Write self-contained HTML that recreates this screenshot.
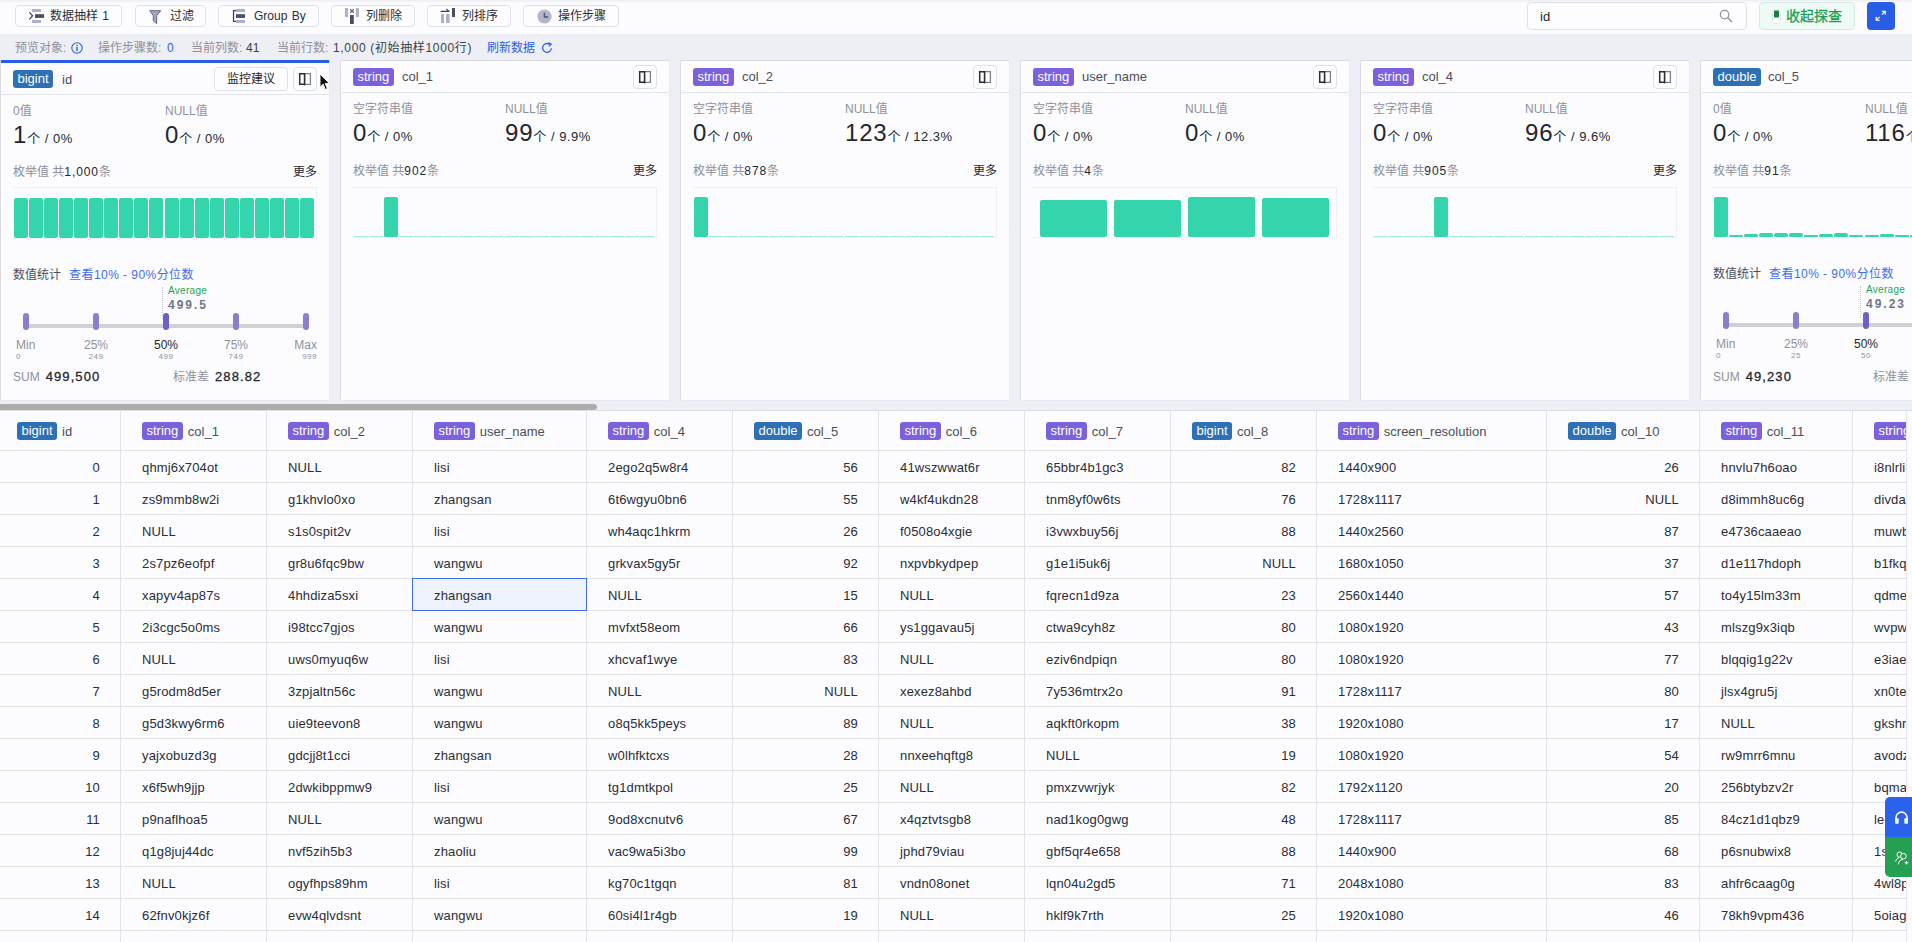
<!DOCTYPE html><html lang="zh"><head><meta charset="utf-8"><title>数据探查</title><style>*{box-sizing:border-box;margin:0;padding:0}
html,body{width:1912px;height:942px;overflow:hidden}
body{position:relative;background:#eeeff4;font-family:"Liberation Sans","Noto Sans CJK SC",sans-serif;font-size:13px;color:#23262e;-webkit-font-smoothing:antialiased}
.abs{position:absolute}
/* top toolbar */
.tb{position:absolute;left:0;top:0;width:1912px;height:34px;background:linear-gradient(#eeeff4 0,#eeeff4 1.5px,#f7f7fb 1.5px,#f7f7fb 3.5px,#fcfcfe 3.5px)}
.btn{position:absolute;top:5px;height:22px;border:1px solid #dfe1ea;border-radius:4px;background:#fdfdff;font-size:12px;line-height:20px;color:#2a2d36;white-space:nowrap}
.btn svg{position:absolute;top:3px}
.btn span{position:absolute;top:0;word-spacing:1px}
.search{position:absolute;left:1527px;top:2px;width:220px;height:28px;border:1px solid #dfe1e8;border-radius:4px;background:#fdfdff}
.search span{position:absolute;left:12px;top:0;line-height:27px;font-size:13px;color:#23262e}
.collapse{position:absolute;left:1759px;top:2px;width:96px;height:28px;border:1px solid #d4ebe4;border-radius:4px;background:#eefaf6;color:#1a9f53;font-size:14px;line-height:26px}
.expand{position:absolute;left:1867px;top:2px;width:28px;height:28px;border-radius:4px;background:#2a5de6}
/* info bar */
.info{position:absolute;left:0;top:33px;width:1912px;height:27px;font-size:12px;line-height:31px;color:#8d919c;white-space:nowrap}
.info span{position:absolute;top:0}
.info .v{color:#2a5de6}
.info .d{color:#3b3f4a}
/* cards */
.card{position:absolute;background:#fcfcfe;border:1px solid #e7e8f0;border-top-color:#dcdde3;border-left-color:#dcdde3;border-radius:2px}
.card.first{border-top:3px solid #2a5de6}
.card .hd{position:absolute;left:0;right:0;top:0;height:33px;border-bottom:1px solid #e3e5ec}
.card.first .hd{height:32px}
.bdg{display:inline-block;height:18px;line-height:18px;padding:0 4.5px;border-radius:3px;color:#fff;font-size:13px;vertical-align:middle}
.bn{background:#2d70b6}
.bs{background:#7b61dc}
.card .hd .bdg{position:absolute;left:12px;top:7px}
.nm{line-height:18px;font-size:13px;color:#4a4e59;white-space:nowrap}
.ib{position:absolute;top:4px;width:24px;height:24px;border:1px solid #dfe1e8;border-radius:4px;background:#fdfdff}
.mon{position:absolute;left:214px;top:5px;width:74px;height:24px;border:1px solid #dfe1e8;border-radius:4px;background:#fdfdff;font-size:12px;line-height:22px;text-align:center;color:#23262e}
.lab{position:absolute;font-size:12px;line-height:14px;color:#8d919c;white-space:nowrap}
.big{position:absolute;white-space:nowrap;line-height:28px;font-size:13px;color:#23262e;letter-spacing:.5px}
.big b{font-weight:400;font-size:24px;letter-spacing:.8px}
.enum{position:absolute;font-size:12px;line-height:14px;color:#8d919c;white-space:nowrap}
.enum i{font-style:normal;color:#23262e;letter-spacing:.9px}
.more{position:absolute;font-size:12px;line-height:14px;color:#23262e}
.chart{position:absolute;left:12px;width:304px;height:52px;border-top:1px dotted #e2e4ee;border-right:1px dotted #e2e4ee;border-bottom:1px dotted #e6e8f0}
.chart i{position:absolute;bottom:0;background:#34d4ad;border-radius:2px}
.chart .base{position:absolute;left:1px;right:2px;bottom:0;height:1px;background:repeating-linear-gradient(90deg,#a6e8d7 0,#a6e8d7 14px,transparent 14px,transparent 15.05px)}
.st{position:absolute;font-size:12px;line-height:14px;white-space:nowrap}
.trk{position:absolute;height:4px;background:#cfd0d8;border-radius:2px}
.mk{position:absolute;width:6px;height:17px;border-radius:3px;background:#8577c9}
.pl{position:absolute;font-size:12px;line-height:14px;color:#8d919c;text-align:center;width:40px;white-space:nowrap}
.ps{position:absolute;font-size:8px;line-height:10px;color:#8d919c;text-align:center;width:40px;letter-spacing:.5px}
.sum{position:absolute;font-size:12px;line-height:16px;color:#8d919c;white-space:nowrap}
.sum b{color:#23262e;font-weight:400;font-size:13px;-webkit-text-stroke:.3px #23262e;letter-spacing:1.1px;margin-left:6px}
/* scrollbar */
.hs{position:absolute;left:0;top:404px;width:597px;height:6px;background:#acacab;border-radius:0 3px 3px 0}
/* table */
.tbl{position:absolute;left:0;top:411px;width:1906px;height:531px;background:#fcfcfe;overflow:hidden}
.th{position:absolute;top:0;height:39px;line-height:41px;white-space:nowrap;color:#4a4e59;font-size:13px}
.th .bdg{margin-top:-3px}
.th .cn{margin-left:5px}
.td{position:absolute;height:31px;line-height:33px;white-space:nowrap;font-size:13px;color:#2a2d36;letter-spacing:.15px;z-index:2}
.td.r{text-align:right}
.sel{position:absolute;border:1.5px solid #3d6cf0;background:#eef3fe;z-index:1}
.vl{position:absolute;top:0;width:1px;height:531px;background:#e1e3ea}
.hl{position:absolute;left:0;width:1906px;height:1px;background:#e1e3ea}
.vs{position:absolute;left:1906px;top:411px;width:6px;height:531px;background:#fcfcfe;border-left:1px solid #e6e8ee;z-index:4}
.fl{position:absolute;left:1885px;width:27px;z-index:5}
.tt{position:absolute;left:0;top:410px;width:1912px;height:1px;background:#dcdde2}
</style></head><body>
<div class="tb">
  <div class="btn" style="left:15px;width:107px">
    <svg style="left:12px" width="18" height="16" viewBox="0 0 18 16"><path d="M1.3 3.3 L4.6 6.8 L1.3 10.3" fill="none" stroke="#3a3e55" stroke-width="1.2"/><rect x="4" y="0" width="9" height="3" fill="#adb0cc"/><rect x="7" y="5.2" width="9" height="3.7" fill="#4a4d5e"/><rect x="4" y="11" width="9" height="3" fill="#adb0cc"/></svg>
    <span style="left:34px">数据抽样 1</span>
  </div>
  <div class="btn" style="left:135px;width:71px">
    <svg style="left:13px;top:4px" width="13" height="15" viewBox="0 0 13 15"><path d="M0.7 0.7 H11.7 L7.7 5.6 V13.6 L4.3 10.8 V5.6 Z" fill="#a3a7c4" stroke="#555a78" stroke-width=".9" stroke-linejoin="round"/></svg>
    <span style="left:34px">过滤</span>
  </div>
  <div class="btn" style="left:218px;width:101px">
    <svg style="left:13px" width="15" height="16" viewBox="0 0 15 16"><path d="M4 1.6 H1.5 V12.4 H4" fill="none" stroke="#3a3e55" stroke-width="1.2"/><rect x="4" y="0" width="9" height="3" fill="#adb0cc"/><rect x="4" y="5.2" width="9" height="3.7" fill="#4a4d5e"/><rect x="4" y="11" width="9" height="3" fill="#adb0cc"/></svg>
    <span style="left:35px">Group By</span>
  </div>
  <div class="btn" style="left:331px;width:84px">
    <svg style="left:13px;top:2px" width="15" height="17" viewBox="0 0 15 17"><rect x="0" y="0" width="3" height="9" fill="#adb0cc"/><rect x="11" y="0" width="3" height="9" fill="#adb0cc"/><rect x="5" y="7" width="3.8" height="9" fill="#4a4d5e"/><path d="M5.2 1.2 L8.8 4.8 M8.8 1.2 L5.2 4.8" stroke="#4a4d5e" stroke-width="1.1"/></svg>
    <span style="left:34px">列删除</span>
  </div>
  <div class="btn" style="left:427px;width:84px">
    <svg style="left:12px;top:2px" width="17" height="17" viewBox="0 0 17 17"><rect x="1" y="6" width="3" height="9" fill="#adb0cc"/><rect x="6" y="6" width="3.6" height="9" fill="#adb0cc"/><rect x="12" y="0" width="3" height="9" fill="#4a4d5e"/><path d="M0.6 3.4 H9.4 M6.4 1.2 L9.4 3.4" fill="none" stroke="#3a3e55" stroke-width="1.1"/></svg>
    <span style="left:34px">列排序</span>
  </div>
  <div class="btn" style="left:523px;width:96px">
    <svg style="left:12.5px;top:2.5px" width="15" height="15" viewBox="0 0 15 15"><circle cx="7.5" cy="7.5" r="7.1" fill="#b3b5c9"/><path d="M7.4 3.8 V8 H11.2" fill="none" stroke="#46557f" stroke-width="1.4"/></svg>
    <span style="left:34px">操作步骤</span>
  </div>
  <div class="search"><span>id</span>
    <svg style="position:absolute;left:190.5px;top:6px" width="14" height="14" viewBox="0 0 15 15"><circle cx="6" cy="6" r="4.6" fill="none" stroke="#8d919c" stroke-width="1.3"/><path d="M9.4 9.4 L13.6 13.6" stroke="#8d919c" stroke-width="1.5" stroke-linecap="round"/></svg>
  </div>
  <div class="collapse">
    <svg style="position:absolute;left:12px;top:5.5px" width="9" height="15" viewBox="0 0 9 15"><rect x="0.5" y="0.5" width="8" height="14" rx="3.2" fill="#fdfdff" stroke="#d9daf2" stroke-width=".8"/><rect x="2" y="1.5" width="5" height="7" rx=".7" fill="#18803f"/></svg>
    <span style="position:absolute;left:26px;top:0;-webkit-text-stroke:.3px #1a9f53">收起探查</span>
  </div>
  <div class="expand">
    <svg style="position:absolute;left:8px;top:8px" width="11.5" height="11.5" viewBox="0 0 14 14"><path d="M8.2 1.5 H12.5 V5.8 M12.5 1.5 L8.4 5.6 M5.8 12.5 H1.5 V8.2 M1.5 12.5 L5.6 8.4" fill="none" stroke="#fff" stroke-width="1.4"/></svg>
  </div>
</div>
<div class="info">
  <span style="left:15px">预览对象:</span>
  <svg style="position:absolute;left:71px;top:9px" width="12" height="12" viewBox="0 0 12 12"><circle cx="6" cy="6" r="5.2" fill="none" stroke="#2a5de6" stroke-width="1.1"/><rect x="5.3" y="5" width="1.4" height="4" fill="#2a5de6"/><rect x="5.3" y="2.8" width="1.4" height="1.4" fill="#2a5de6"/></svg>
  <span style="left:98px">操作步骤数:</span><span class="v" style="left:167px">0</span>
  <span style="left:191px">当前列数:</span><span class="d" style="left:246px">41</span>
  <span style="left:277px">当前行数:</span><span class="d" style="left:333px;letter-spacing:.65px">1,000 (初始抽样1000行)</span>
  <span class="v" style="left:487px">刷新数据</span>
  <svg style="position:absolute;left:541px;top:9px" width="12" height="12" viewBox="0 0 12 12"><path d="M10.4 6.2 A4.4 4.4 0 1 1 8.6 2.4" fill="none" stroke="#2a5de6" stroke-width="1.2"/><path d="M7.2 0.6 L10.2 2.2 L7.8 4.4" fill="none" stroke="#2a5de6" stroke-width="1.2"/></svg>
</div>

<div class="card first" style="left:0px;top:60px;width:330px;height:341px"></div>
<div class="abs" style="left:2px;top:94px;width:327px;height:1px;background:#e3e5ec"></div>
<span class="bdg bn abs" style="left:13px;top:70px">bigint</span>
<span class="abs nm" style="left:62px;top:71px">id</span>
<div class="mon" style="left:214px;top:67px">监控建议</div>
<div class="ib" style="left:293px;top:67px"><svg width="14" height="15" viewBox="0 0 14 15" style="position:absolute;left:4px;top:4px"><path d="M6.2 1.7 H1.7 V12.3 H6.2" fill="none" stroke="#2a2d36" stroke-width="1.5"/><path d="M6.2 1.7 H12.4 V12.3 H6.2" fill="none" stroke="#7d808c" stroke-width="1.3"/><path d="M6.6 1 V13.4" stroke="#2a2d36" stroke-width="1.6"/></svg></div>
<div class="lab" style="left:13px;top:104px">0值</div>
<div class="lab" style="left:165px;top:104px">NULL值</div>
<div class="big" style="left:13px;top:121px"><b>1</b>个 / 0%</div>
<div class="big" style="left:165px;top:121px"><b>0</b>个 / 0%</div>
<div class="enum" style="left:13px;top:165px">枚举值 共<i>1,000</i>条</div>
<div class="more" style="left:293px;top:165px">更多</div>
<div class="chart" style="left:13px;top:187px;height:52px">
<i style="left:1.0px;width:14px;height:40px"></i>
<i style="left:16.05px;width:14px;height:40px"></i>
<i style="left:31.1px;width:14px;height:40px"></i>
<i style="left:46.150000000000006px;width:14px;height:40px"></i>
<i style="left:61.2px;width:14px;height:40px"></i>
<i style="left:76.25px;width:14px;height:40px"></i>
<i style="left:91.30000000000001px;width:14px;height:40px"></i>
<i style="left:106.35000000000001px;width:14px;height:40px"></i>
<i style="left:121.4px;width:14px;height:40px"></i>
<i style="left:136.45000000000002px;width:14px;height:40px"></i>
<i style="left:151.5px;width:14px;height:40px"></i>
<i style="left:166.55px;width:14px;height:40px"></i>
<i style="left:181.60000000000002px;width:14px;height:40px"></i>
<i style="left:196.65px;width:14px;height:40px"></i>
<i style="left:211.70000000000002px;width:14px;height:40px"></i>
<i style="left:226.75px;width:14px;height:40px"></i>
<i style="left:241.8px;width:14px;height:40px"></i>
<i style="left:256.85px;width:14px;height:40px"></i>
<i style="left:271.90000000000003px;width:14px;height:40px"></i>
<i style="left:286.95px;width:14px;height:40px"></i>
</div>
<div class="st" style="left:13px;top:268px;color:#4a4e59">数值统计</div>
<div class="st" style="left:69px;top:268px;color:#3d6cf0;letter-spacing:.45px">查看10% - 90%分位数</div>
<div class="abs" style="left:162px;top:287px;width:0;height:32px;border-left:1px dotted #c4c6d2"></div>
<div class="abs" style="left:168px;top:285px;font-size:10px;line-height:12px;color:#1fa45a;letter-spacing:.3px">Average</div>
<div class="abs" style="left:168px;top:298px;font-size:12px;line-height:14px;font-weight:700;color:#6f7686;letter-spacing:2px">499.5</div>
<div class="trk" style="left:25px;top:324px;width:282px"></div>
<div class="mk" style="left:23px;top:313px;background:#8b7fcb"></div>
<div class="mk" style="left:93px;top:313px;background:#8b7fcb"></div>
<div class="mk" style="left:163px;top:313px;background:#6f5fc6"></div>
<div class="mk" style="left:233px;top:313px;background:#8b7fcb"></div>
<div class="mk" style="left:303px;top:313px;background:#8b7fcb"></div>
<div class="pl" style="left:16px;top:338px;text-align:left;">Min</div>
<div class="ps" style="left:16px;top:352px;text-align:left;">0</div>
<div class="pl" style="left:76px;top:338px;">25%</div>
<div class="ps" style="left:76px;top:352px;">249</div>
<div class="pl" style="left:146px;top:338px;color:#23262e;">50%</div>
<div class="ps" style="left:146px;top:352px;">499</div>
<div class="pl" style="left:216px;top:338px;">75%</div>
<div class="ps" style="left:216px;top:352px;">749</div>
<div class="pl" style="left:277px;top:338px;text-align:right;">Max</div>
<div class="ps" style="left:277px;top:352px;text-align:right;">999</div>
<div class="sum" style="left:13px;top:369px">SUM<b>499,500</b></div>
<div class="sum" style="left:173px;top:369px">标准差<b>288.82</b></div>
<div class="card" style="left:340px;top:60px;width:330px;height:341px"></div>
<div class="abs" style="left:342px;top:92px;width:327px;height:1px;background:#e3e5ec"></div>
<span class="bdg bs abs" style="left:353px;top:68px">string</span>
<span class="abs nm" style="left:402px;top:68px">col_1</span>
<div class="ib" style="left:633px;top:65px"><svg width="14" height="15" viewBox="0 0 14 15" style="position:absolute;left:4px;top:4px"><path d="M6.2 1.7 H1.7 V12.3 H6.2" fill="none" stroke="#2a2d36" stroke-width="1.5"/><path d="M6.2 1.7 H12.4 V12.3 H6.2" fill="none" stroke="#7d808c" stroke-width="1.3"/><path d="M6.6 1 V13.4" stroke="#2a2d36" stroke-width="1.6"/></svg></div>
<div class="lab" style="left:353px;top:102px">空字符串值</div>
<div class="lab" style="left:505px;top:102px">NULL值</div>
<div class="big" style="left:353px;top:119px"><b>0</b>个 / 0%</div>
<div class="big" style="left:505px;top:119px"><b>99</b>个 / 9.9%</div>
<div class="enum" style="left:353px;top:164px">枚举值 共<i>902</i>条</div>
<div class="more" style="left:633px;top:164px">更多</div>
<div class="chart" style="left:353px;top:187px;height:51px">
<div class="base"></div>
<i style="left:31px;width:14px;height:40px"></i>
</div>
<div class="card" style="left:680px;top:60px;width:330px;height:341px"></div>
<div class="abs" style="left:682px;top:92px;width:327px;height:1px;background:#e3e5ec"></div>
<span class="bdg bs abs" style="left:693px;top:68px">string</span>
<span class="abs nm" style="left:742px;top:68px">col_2</span>
<div class="ib" style="left:973px;top:65px"><svg width="14" height="15" viewBox="0 0 14 15" style="position:absolute;left:4px;top:4px"><path d="M6.2 1.7 H1.7 V12.3 H6.2" fill="none" stroke="#2a2d36" stroke-width="1.5"/><path d="M6.2 1.7 H12.4 V12.3 H6.2" fill="none" stroke="#7d808c" stroke-width="1.3"/><path d="M6.6 1 V13.4" stroke="#2a2d36" stroke-width="1.6"/></svg></div>
<div class="lab" style="left:693px;top:102px">空字符串值</div>
<div class="lab" style="left:845px;top:102px">NULL值</div>
<div class="big" style="left:693px;top:119px"><b>0</b>个 / 0%</div>
<div class="big" style="left:845px;top:119px"><b>123</b>个 / 12.3%</div>
<div class="enum" style="left:693px;top:164px">枚举值 共<i>878</i>条</div>
<div class="more" style="left:973px;top:164px">更多</div>
<div class="chart" style="left:693px;top:187px;height:51px">
<div class="base"></div>
<i style="left:1px;width:14px;height:40px"></i>
</div>
<div class="card" style="left:1020px;top:60px;width:330px;height:341px"></div>
<div class="abs" style="left:1022px;top:92px;width:327px;height:1px;background:#e3e5ec"></div>
<span class="bdg bs abs" style="left:1033px;top:68px">string</span>
<span class="abs nm" style="left:1082px;top:68px">user_name</span>
<div class="ib" style="left:1313px;top:65px"><svg width="14" height="15" viewBox="0 0 14 15" style="position:absolute;left:4px;top:4px"><path d="M6.2 1.7 H1.7 V12.3 H6.2" fill="none" stroke="#2a2d36" stroke-width="1.5"/><path d="M6.2 1.7 H12.4 V12.3 H6.2" fill="none" stroke="#7d808c" stroke-width="1.3"/><path d="M6.6 1 V13.4" stroke="#2a2d36" stroke-width="1.6"/></svg></div>
<div class="lab" style="left:1033px;top:102px">空字符串值</div>
<div class="lab" style="left:1185px;top:102px">NULL值</div>
<div class="big" style="left:1033px;top:119px"><b>0</b>个 / 0%</div>
<div class="big" style="left:1185px;top:119px"><b>0</b>个 / 0%</div>
<div class="enum" style="left:1033px;top:164px">枚举值 共<i>4</i>条</div>
<div class="chart" style="left:1033px;top:187px;height:51px">
<i style="left:7px;width:67px;height:37px"></i>
<i style="left:81px;width:67px;height:37px"></i>
<i style="left:155px;width:67px;height:40px"></i>
<i style="left:229px;width:67px;height:39px"></i>
</div>
<div class="card" style="left:1360px;top:60px;width:330px;height:341px"></div>
<div class="abs" style="left:1362px;top:92px;width:327px;height:1px;background:#e3e5ec"></div>
<span class="bdg bs abs" style="left:1373px;top:68px">string</span>
<span class="abs nm" style="left:1422px;top:68px">col_4</span>
<div class="ib" style="left:1653px;top:65px"><svg width="14" height="15" viewBox="0 0 14 15" style="position:absolute;left:4px;top:4px"><path d="M6.2 1.7 H1.7 V12.3 H6.2" fill="none" stroke="#2a2d36" stroke-width="1.5"/><path d="M6.2 1.7 H12.4 V12.3 H6.2" fill="none" stroke="#7d808c" stroke-width="1.3"/><path d="M6.6 1 V13.4" stroke="#2a2d36" stroke-width="1.6"/></svg></div>
<div class="lab" style="left:1373px;top:102px">空字符串值</div>
<div class="lab" style="left:1525px;top:102px">NULL值</div>
<div class="big" style="left:1373px;top:119px"><b>0</b>个 / 0%</div>
<div class="big" style="left:1525px;top:119px"><b>96</b>个 / 9.6%</div>
<div class="enum" style="left:1373px;top:164px">枚举值 共<i>905</i>条</div>
<div class="more" style="left:1653px;top:164px">更多</div>
<div class="chart" style="left:1373px;top:187px;height:51px">
<div class="base"></div>
<i style="left:61px;width:14px;height:40px"></i>
</div>
<div class="card" style="left:1700px;top:60px;width:330px;height:341px"></div>
<div class="abs" style="left:1702px;top:92px;width:327px;height:1px;background:#e3e5ec"></div>
<span class="bdg bn abs" style="left:1713px;top:68px">double</span>
<span class="abs nm" style="left:1768px;top:68px">col_5</span>
<div class="ib" style="left:1993px;top:65px"><svg width="14" height="15" viewBox="0 0 14 15" style="position:absolute;left:4px;top:4px"><path d="M6.2 1.7 H1.7 V12.3 H6.2" fill="none" stroke="#2a2d36" stroke-width="1.5"/><path d="M6.2 1.7 H12.4 V12.3 H6.2" fill="none" stroke="#7d808c" stroke-width="1.3"/><path d="M6.6 1 V13.4" stroke="#2a2d36" stroke-width="1.6"/></svg></div>
<div class="lab" style="left:1713px;top:102px">0值</div>
<div class="lab" style="left:1865px;top:102px">NULL值</div>
<div class="big" style="left:1713px;top:119px"><b>0</b>个 / 0%</div>
<div class="big" style="left:1865px;top:119px"><b>116</b>个 / 11.6%</div>
<div class="enum" style="left:1713px;top:164px">枚举值 共<i>91</i>条</div>
<div class="chart" style="left:1713px;top:187px;height:51px">
<div class="base"></div>
<i style="left:1px;width:14px;height:40px"></i>
<i style="left:16.05px;width:14px;height:2px"></i>
<i style="left:31.1px;width:14px;height:3px"></i>
<i style="left:46.150000000000006px;width:14px;height:4px"></i>
<i style="left:61.2px;width:14px;height:4px"></i>
<i style="left:76.25px;width:14px;height:4px"></i>
<i style="left:91.30000000000001px;width:14px;height:2px"></i>
<i style="left:106.35000000000001px;width:14px;height:3px"></i>
<i style="left:121.4px;width:14px;height:4px"></i>
<i style="left:136.45000000000002px;width:14px;height:2px"></i>
<i style="left:151.5px;width:14px;height:2px"></i>
<i style="left:166.55px;width:14px;height:3px"></i>
<i style="left:181.60000000000002px;width:14px;height:2px"></i>
<i style="left:196.65px;width:14px;height:2px"></i>
</div>
<div class="st" style="left:1713px;top:267px;color:#4a4e59">数值统计</div>
<div class="st" style="left:1769px;top:267px;color:#3d6cf0;letter-spacing:.45px">查看10% - 90%分位数</div>
<div class="abs" style="left:1860px;top:286px;width:0;height:32px;border-left:1px dotted #c4c6d2"></div>
<div class="abs" style="left:1866px;top:284px;font-size:10px;line-height:12px;color:#1fa45a;letter-spacing:.3px">Average</div>
<div class="abs" style="left:1866px;top:297px;font-size:12px;line-height:14px;font-weight:700;color:#6f7686;letter-spacing:2px">49.23</div>
<div class="trk" style="left:1725px;top:323px;width:282px"></div>
<div class="mk" style="left:1723px;top:312px;background:#8b7fcb"></div>
<div class="mk" style="left:1793px;top:312px;background:#8b7fcb"></div>
<div class="mk" style="left:1863px;top:312px;background:#6f5fc6"></div>
<div class="mk" style="left:1933px;top:312px;background:#8b7fcb"></div>
<div class="mk" style="left:2003px;top:312px;background:#8b7fcb"></div>
<div class="pl" style="left:1716px;top:337px;text-align:left;">Min</div>
<div class="ps" style="left:1716px;top:351px;text-align:left;">0</div>
<div class="pl" style="left:1776px;top:337px;">25%</div>
<div class="ps" style="left:1776px;top:351px;">25</div>
<div class="pl" style="left:1846px;top:337px;color:#23262e;">50%</div>
<div class="ps" style="left:1846px;top:351px;">50</div>
<div class="pl" style="left:1916px;top:337px;">75%</div>
<div class="ps" style="left:1916px;top:351px;">75</div>
<div class="pl" style="left:1977px;top:337px;text-align:right;">Max</div>
<div class="ps" style="left:1977px;top:351px;text-align:right;">99</div>
<div class="sum" style="left:1713px;top:369px">SUM<b>49,230</b></div>
<div class="sum" style="left:1873px;top:369px">标准差<b>28.9</b></div>
<div class="tt"></div><div class="hs"></div>

<div class="tbl">
<div class="th" style="left:17px"><span class="bdg bn">bigint</span><span class="cn">id</span></div>
<div class="th" style="left:142px"><span class="bdg bs">string</span><span class="cn">col_1</span></div>
<div class="th" style="left:288px"><span class="bdg bs">string</span><span class="cn">col_2</span></div>
<div class="th" style="left:434px"><span class="bdg bs">string</span><span class="cn">user_name</span></div>
<div class="th" style="left:608px"><span class="bdg bs">string</span><span class="cn">col_4</span></div>
<div class="th" style="left:754px"><span class="bdg bn">double</span><span class="cn">col_5</span></div>
<div class="th" style="left:900px"><span class="bdg bs">string</span><span class="cn">col_6</span></div>
<div class="th" style="left:1046px"><span class="bdg bs">string</span><span class="cn">col_7</span></div>
<div class="th" style="left:1192px"><span class="bdg bn">bigint</span><span class="cn">col_8</span></div>
<div class="th" style="left:1338px"><span class="bdg bs">string</span><span class="cn">screen_resolution</span></div>
<div class="th" style="left:1568px"><span class="bdg bn">double</span><span class="cn">col_10</span></div>
<div class="th" style="left:1721px"><span class="bdg bs">string</span><span class="cn">col_11</span></div>
<div class="th" style="left:1874px"><span class="bdg bs">string</span><span class="cn">col_12</span></div>
<div class="td r" style="left:1px;width:99px;top:40px">0</div>
<div class="td" style="left:142px;top:40px">qhmj6x704ot</div>
<div class="td" style="left:288px;top:40px">NULL</div>
<div class="td" style="left:434px;top:40px">lisi</div>
<div class="td" style="left:608px;top:40px">2ego2q5w8r4</div>
<div class="td r" style="left:733px;width:125px;top:40px">56</div>
<div class="td" style="left:900px;top:40px">41wszwwat6r</div>
<div class="td" style="left:1046px;top:40px">65bbr4b1gc3</div>
<div class="td r" style="left:1171px;width:125px;top:40px">82</div>
<div class="td" style="left:1338px;top:40px">1440x900</div>
<div class="td r" style="left:1547px;width:132px;top:40px">26</div>
<div class="td" style="left:1721px;top:40px">hnvlu7h6oao</div>
<div class="td" style="left:1874px;top:40px">i8nlrlic</div>
<div class="td r" style="left:1px;width:99px;top:72px">1</div>
<div class="td" style="left:142px;top:72px">zs9mmb8w2i</div>
<div class="td" style="left:288px;top:72px">g1khvlo0xo</div>
<div class="td" style="left:434px;top:72px">zhangsan</div>
<div class="td" style="left:608px;top:72px">6t6wgyu0bn6</div>
<div class="td r" style="left:733px;width:125px;top:72px">55</div>
<div class="td" style="left:900px;top:72px">w4kf4ukdn28</div>
<div class="td" style="left:1046px;top:72px">tnm8yf0w6ts</div>
<div class="td r" style="left:1171px;width:125px;top:72px">76</div>
<div class="td" style="left:1338px;top:72px">1728x1117</div>
<div class="td r" style="left:1547px;width:132px;top:72px">NULL</div>
<div class="td" style="left:1721px;top:72px">d8immh8uc6g</div>
<div class="td" style="left:1874px;top:72px">divdas</div>
<div class="td r" style="left:1px;width:99px;top:104px">2</div>
<div class="td" style="left:142px;top:104px">NULL</div>
<div class="td" style="left:288px;top:104px">s1s0spit2v</div>
<div class="td" style="left:434px;top:104px">lisi</div>
<div class="td" style="left:608px;top:104px">wh4aqc1hkrm</div>
<div class="td r" style="left:733px;width:125px;top:104px">26</div>
<div class="td" style="left:900px;top:104px">f0508o4xgie</div>
<div class="td" style="left:1046px;top:104px">i3vwxbuy56j</div>
<div class="td r" style="left:1171px;width:125px;top:104px">88</div>
<div class="td" style="left:1338px;top:104px">1440x2560</div>
<div class="td r" style="left:1547px;width:132px;top:104px">87</div>
<div class="td" style="left:1721px;top:104px">e4736caaeao</div>
<div class="td" style="left:1874px;top:104px">muwbx</div>
<div class="td r" style="left:1px;width:99px;top:136px">3</div>
<div class="td" style="left:142px;top:136px">2s7pz6eofpf</div>
<div class="td" style="left:288px;top:136px">gr8u6fqc9bw</div>
<div class="td" style="left:434px;top:136px">wangwu</div>
<div class="td" style="left:608px;top:136px">grkvax5gy5r</div>
<div class="td r" style="left:733px;width:125px;top:136px">92</div>
<div class="td" style="left:900px;top:136px">nxpvbkydpep</div>
<div class="td" style="left:1046px;top:136px">g1e1i5uk6j</div>
<div class="td r" style="left:1171px;width:125px;top:136px">NULL</div>
<div class="td" style="left:1338px;top:136px">1680x1050</div>
<div class="td r" style="left:1547px;width:132px;top:136px">37</div>
<div class="td" style="left:1721px;top:136px">d1e117hdoph</div>
<div class="td" style="left:1874px;top:136px">b1fkqs</div>
<div class="td r" style="left:1px;width:99px;top:168px">4</div>
<div class="td" style="left:142px;top:168px">xapyv4ap87s</div>
<div class="td" style="left:288px;top:168px">4hhdiza5sxi</div>
<div class="td" style="left:434px;top:168px">zhangsan</div>
<div class="td" style="left:608px;top:168px">NULL</div>
<div class="td r" style="left:733px;width:125px;top:168px">15</div>
<div class="td" style="left:900px;top:168px">NULL</div>
<div class="td" style="left:1046px;top:168px">fqrecn1d9za</div>
<div class="td r" style="left:1171px;width:125px;top:168px">23</div>
<div class="td" style="left:1338px;top:168px">2560x1440</div>
<div class="td r" style="left:1547px;width:132px;top:168px">57</div>
<div class="td" style="left:1721px;top:168px">to4y15lm33m</div>
<div class="td" style="left:1874px;top:168px">qdmea</div>
<div class="td r" style="left:1px;width:99px;top:200px">5</div>
<div class="td" style="left:142px;top:200px">2i3cgc5o0ms</div>
<div class="td" style="left:288px;top:200px">i98tcc7gjos</div>
<div class="td" style="left:434px;top:200px">wangwu</div>
<div class="td" style="left:608px;top:200px">mvfxt58eom</div>
<div class="td r" style="left:733px;width:125px;top:200px">66</div>
<div class="td" style="left:900px;top:200px">ys1ggavau5j</div>
<div class="td" style="left:1046px;top:200px">ctwa9cyh8z</div>
<div class="td r" style="left:1171px;width:125px;top:200px">80</div>
<div class="td" style="left:1338px;top:200px">1080x1920</div>
<div class="td r" style="left:1547px;width:132px;top:200px">43</div>
<div class="td" style="left:1721px;top:200px">mlszg9x3iqb</div>
<div class="td" style="left:1874px;top:200px">wvpwa</div>
<div class="td r" style="left:1px;width:99px;top:232px">6</div>
<div class="td" style="left:142px;top:232px">NULL</div>
<div class="td" style="left:288px;top:232px">uws0myuq6w</div>
<div class="td" style="left:434px;top:232px">lisi</div>
<div class="td" style="left:608px;top:232px">xhcvaf1wye</div>
<div class="td r" style="left:733px;width:125px;top:232px">83</div>
<div class="td" style="left:900px;top:232px">NULL</div>
<div class="td" style="left:1046px;top:232px">eziv6ndpiqn</div>
<div class="td r" style="left:1171px;width:125px;top:232px">80</div>
<div class="td" style="left:1338px;top:232px">1080x1920</div>
<div class="td r" style="left:1547px;width:132px;top:232px">77</div>
<div class="td" style="left:1721px;top:232px">blqqig1g22v</div>
<div class="td" style="left:1874px;top:232px">e3iaea</div>
<div class="td r" style="left:1px;width:99px;top:264px">7</div>
<div class="td" style="left:142px;top:264px">g5rodm8d5er</div>
<div class="td" style="left:288px;top:264px">3zpjaltn56c</div>
<div class="td" style="left:434px;top:264px">wangwu</div>
<div class="td" style="left:608px;top:264px">NULL</div>
<div class="td r" style="left:733px;width:125px;top:264px">NULL</div>
<div class="td" style="left:900px;top:264px">xexez8ahbd</div>
<div class="td" style="left:1046px;top:264px">7y536mtrx2o</div>
<div class="td r" style="left:1171px;width:125px;top:264px">91</div>
<div class="td" style="left:1338px;top:264px">1728x1117</div>
<div class="td r" style="left:1547px;width:132px;top:264px">80</div>
<div class="td" style="left:1721px;top:264px">jlsx4gru5j</div>
<div class="td" style="left:1874px;top:264px">xn0tea</div>
<div class="td r" style="left:1px;width:99px;top:296px">8</div>
<div class="td" style="left:142px;top:296px">g5d3kwy6rm6</div>
<div class="td" style="left:288px;top:296px">uie9teevon8</div>
<div class="td" style="left:434px;top:296px">wangwu</div>
<div class="td" style="left:608px;top:296px">o8q5kk5peys</div>
<div class="td r" style="left:733px;width:125px;top:296px">89</div>
<div class="td" style="left:900px;top:296px">NULL</div>
<div class="td" style="left:1046px;top:296px">aqkft0rkopm</div>
<div class="td r" style="left:1171px;width:125px;top:296px">38</div>
<div class="td" style="left:1338px;top:296px">1920x1080</div>
<div class="td r" style="left:1547px;width:132px;top:296px">17</div>
<div class="td" style="left:1721px;top:296px">NULL</div>
<div class="td" style="left:1874px;top:296px">gkshra</div>
<div class="td r" style="left:1px;width:99px;top:328px">9</div>
<div class="td" style="left:142px;top:328px">yajxobuzd3g</div>
<div class="td" style="left:288px;top:328px">gdcjj8t1cci</div>
<div class="td" style="left:434px;top:328px">zhangsan</div>
<div class="td" style="left:608px;top:328px">w0lhfktcxs</div>
<div class="td r" style="left:733px;width:125px;top:328px">28</div>
<div class="td" style="left:900px;top:328px">nnxeehqftg8</div>
<div class="td" style="left:1046px;top:328px">NULL</div>
<div class="td r" style="left:1171px;width:125px;top:328px">19</div>
<div class="td" style="left:1338px;top:328px">1080x1920</div>
<div class="td r" style="left:1547px;width:132px;top:328px">54</div>
<div class="td" style="left:1721px;top:328px">rw9mrr6mnu</div>
<div class="td" style="left:1874px;top:328px">avodza</div>
<div class="td r" style="left:1px;width:99px;top:360px">10</div>
<div class="td" style="left:142px;top:360px">x6f5wh9jjp</div>
<div class="td" style="left:288px;top:360px">2dwkibppmw9</div>
<div class="td" style="left:434px;top:360px">lisi</div>
<div class="td" style="left:608px;top:360px">tg1dmtkpol</div>
<div class="td r" style="left:733px;width:125px;top:360px">25</div>
<div class="td" style="left:900px;top:360px">NULL</div>
<div class="td" style="left:1046px;top:360px">pmxzvwrjyk</div>
<div class="td r" style="left:1171px;width:125px;top:360px">82</div>
<div class="td" style="left:1338px;top:360px">1792x1120</div>
<div class="td r" style="left:1547px;width:132px;top:360px">20</div>
<div class="td" style="left:1721px;top:360px">256btybzv2r</div>
<div class="td" style="left:1874px;top:360px">bqmaa</div>
<div class="td r" style="left:1px;width:99px;top:392px">11</div>
<div class="td" style="left:142px;top:392px">p9naflhoa5</div>
<div class="td" style="left:288px;top:392px">NULL</div>
<div class="td" style="left:434px;top:392px">wangwu</div>
<div class="td" style="left:608px;top:392px">9od8xcnutv6</div>
<div class="td r" style="left:733px;width:125px;top:392px">67</div>
<div class="td" style="left:900px;top:392px">x4qztvtsgb8</div>
<div class="td" style="left:1046px;top:392px">nad1kog0gwg</div>
<div class="td r" style="left:1171px;width:125px;top:392px">48</div>
<div class="td" style="left:1338px;top:392px">1728x1117</div>
<div class="td r" style="left:1547px;width:132px;top:392px">85</div>
<div class="td" style="left:1721px;top:392px">84cz1d1qbz9</div>
<div class="td" style="left:1874px;top:392px">le</div>
<div class="td r" style="left:1px;width:99px;top:424px">12</div>
<div class="td" style="left:142px;top:424px">q1g8juj44dc</div>
<div class="td" style="left:288px;top:424px">nvf5zih5b3</div>
<div class="td" style="left:434px;top:424px">zhaoliu</div>
<div class="td" style="left:608px;top:424px">vac9wa5i3bo</div>
<div class="td r" style="left:733px;width:125px;top:424px">99</div>
<div class="td" style="left:900px;top:424px">jphd79viau</div>
<div class="td" style="left:1046px;top:424px">gbf5qr4e658</div>
<div class="td r" style="left:1171px;width:125px;top:424px">88</div>
<div class="td" style="left:1338px;top:424px">1440x900</div>
<div class="td r" style="left:1547px;width:132px;top:424px">68</div>
<div class="td" style="left:1721px;top:424px">p6snubwix8</div>
<div class="td" style="left:1874px;top:424px">1s</div>
<div class="td r" style="left:1px;width:99px;top:456px">13</div>
<div class="td" style="left:142px;top:456px">NULL</div>
<div class="td" style="left:288px;top:456px">ogyfhps89hm</div>
<div class="td" style="left:434px;top:456px">lisi</div>
<div class="td" style="left:608px;top:456px">kg70c1tgqn</div>
<div class="td r" style="left:733px;width:125px;top:456px">81</div>
<div class="td" style="left:900px;top:456px">vndn08onet</div>
<div class="td" style="left:1046px;top:456px">lqn04u2gd5</div>
<div class="td r" style="left:1171px;width:125px;top:456px">71</div>
<div class="td" style="left:1338px;top:456px">2048x1080</div>
<div class="td r" style="left:1547px;width:132px;top:456px">83</div>
<div class="td" style="left:1721px;top:456px">ahfr6caag0g</div>
<div class="td" style="left:1874px;top:456px">4wl8p</div>
<div class="td r" style="left:1px;width:99px;top:488px">14</div>
<div class="td" style="left:142px;top:488px">62fnv0kjz6f</div>
<div class="td" style="left:288px;top:488px">evw4qlvdsnt</div>
<div class="td" style="left:434px;top:488px">wangwu</div>
<div class="td" style="left:608px;top:488px">60si4l1r4gb</div>
<div class="td r" style="left:733px;width:125px;top:488px">19</div>
<div class="td" style="left:900px;top:488px">NULL</div>
<div class="td" style="left:1046px;top:488px">hklf9k7rth</div>
<div class="td r" style="left:1171px;width:125px;top:488px">25</div>
<div class="td" style="left:1338px;top:488px">1920x1080</div>
<div class="td r" style="left:1547px;width:132px;top:488px">46</div>
<div class="td" style="left:1721px;top:488px">78kh9vpm436</div>
<div class="td" style="left:1874px;top:488px">5oiagx</div>
<div class="sel" style="left:412px;top:167px;width:175px;height:33px"></div>
<div class="vl" style="left:120px"></div>
<div class="vl" style="left:266px"></div>
<div class="vl" style="left:412px"></div>
<div class="vl" style="left:586px"></div>
<div class="vl" style="left:732px"></div>
<div class="vl" style="left:878px"></div>
<div class="vl" style="left:1024px"></div>
<div class="vl" style="left:1170px"></div>
<div class="vl" style="left:1316px"></div>
<div class="vl" style="left:1546px"></div>
<div class="vl" style="left:1699px"></div>
<div class="vl" style="left:1852px"></div>
<div class="vl" style="left:1998px"></div>
<div class="hl" style="top:39px"></div>
<div class="hl" style="top:71px"></div>
<div class="hl" style="top:103px"></div>
<div class="hl" style="top:135px"></div>
<div class="hl" style="top:167px"></div>
<div class="hl" style="top:199px"></div>
<div class="hl" style="top:231px"></div>
<div class="hl" style="top:263px"></div>
<div class="hl" style="top:295px"></div>
<div class="hl" style="top:327px"></div>
<div class="hl" style="top:359px"></div>
<div class="hl" style="top:391px"></div>
<div class="hl" style="top:423px"></div>
<div class="hl" style="top:455px"></div>
<div class="hl" style="top:487px"></div>
<div class="hl" style="top:519px"></div>
<div class="hl" style="top:551px"></div>
</div>
<div class="vs"></div>
<div class="abs" style="left:1908px;top:451px;width:5px;height:9px;background:#b5b6ba;border-radius:3px"></div>
<div class="fl" style="top:797px;height:40px;background:#2a62ee;border-radius:5px 0 0 0">
<svg style="position:absolute;left:9px;top:14px" width="15" height="14" viewBox="0 0 15 14"><path d="M2 9 V6.6 A5.5 5.5 0 0 1 13 6.6 V9" fill="none" stroke="#fff" stroke-width="1.6"/><rect x="1.1" y="7.2" width="3.6" height="5.6" rx="1" fill="#fff"/><rect x="10.3" y="7.2" width="3.6" height="5.6" rx="1" fill="#fff"/></svg>
</div>
<div class="fl" style="top:837px;height:40px;background:#25a052;border-radius:0 0 0 5px">
<svg style="position:absolute;left:10px;top:14px" width="14" height="14" viewBox="0 0 14 14"><circle cx="4.6" cy="3.6" r="2.6" fill="none" stroke="#fff" stroke-width="1"/><circle cx="8.4" cy="5.2" r="2.8" fill="#25a052" stroke="#fff" stroke-width="1"/><path d="M0.6 10.5 A4.5 4.5 0 0 1 4 6.6 M3.4 13.4 A5.2 5.2 0 0 1 8 8.4" fill="none" stroke="#fff" stroke-width="1"/><path d="M9.6 11.8 H13.4 M11.5 10 V13.6" stroke="#fff" stroke-width="1.1" fill="none"/></svg>
</div>
<svg class="abs" style="left:319px;top:73px;z-index:9" width="11.5" height="18" viewBox="0 0 12 19"><path d="M1 1 V15 L4.3 11.8 L6.6 17.4 L8.8 16.4 L6.5 11 H11 Z" fill="#111" stroke="#fff" stroke-width="1"/></svg>

</body></html>
